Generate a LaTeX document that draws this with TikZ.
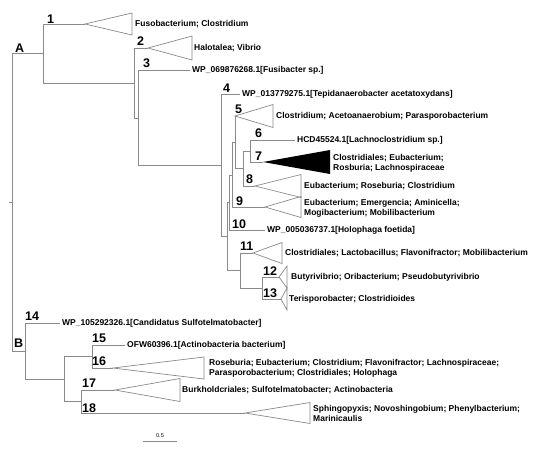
\documentclass[tikz,border=0pt]{standalone}
\usepackage{fontspec}
\setmainfont{Liberation Sans}
\definecolor{linegrey}{HTML}{8A8A8A}
\newcommand\cladetri[5]{% name, tip x, y, back x, half height
  \coordinate (#1) at (#2,#3);
  \draw[tri] (#1) -- (#4,#3-#5) -- (#4,#3+#5) -- cycle;}
\begin{document}
\begin{tikzpicture}[x=1pt,y=-1pt,
  br/.style={draw=linegrey,line width=0.9pt},
  tri/.style={draw=linegrey,line width=0.7pt},
  leaf/.style={anchor=west,inner sep=0pt,font=\fontsize{8.5}{10}\selectfont\bfseries,align=left},
  num/.style={anchor=base west,inner sep=0pt,font=\fontsize{12.5}{13}\selectfont\bfseries}]
\fill[white] (0,0) rectangle (554,448);
\useasboundingbox (0,0) rectangle (554,448);

% internal nodes
\coordinate (rs) at (9,202);
\coordinate (r) at (12,202);
\coordinate (A) at (43,53.5);
\coordinate (B) at (25,351);
\coordinate (N2) at (134,83);
\coordinate (N3) at (138,118);
\coordinate (N4) at (221,165);
\coordinate (N4b) at (227,236);
\coordinate (N10) at (229,202);
\coordinate (Nb) at (232,175);
\coordinate (Na) at (235,142);
\coordinate (N678) at (243,168);
\coordinate (N67) at (250,151);
\coordinate (N11) at (240,270);
\coordinate (N1213) at (262,288);
\coordinate (N1518) at (64,379);
\coordinate (N1516) at (92,356);
\coordinate (N1718) at (81,401);
% single leaves
\coordinate (l3) at (190,70);
\coordinate (l4) at (240,94);
\coordinate (l6) at (295,140);
\coordinate (l10) at (265,230);
\coordinate (l14) at (60,323);
\coordinate (l15) at (125,345);

% collapsed clades
\cladetri{t1}{85}{24}{132}{11}
\cladetri{t2}{148}{48}{192}{12}
\cladetri{t5}{235}{116}{273}{11.5}
\coordinate (t7) at (263,162);
\fill[black] (t7) -- (330,150) -- (330,174) -- cycle;
\cladetri{t8}{255}{186}{301}{11.5}
\cladetri{t9}{265}{207}{301}{10.5}
\cladetri{t11}{253}{253}{282}{10.5}
\cladetri{t12}{279}{277}{287}{11}
\cladetri{t13}{281}{299}{287}{11}
\cladetri{t16}{113}{368}{204}{11}
\cladetri{t17}{115}{390}{180}{11.5}
\cladetri{t18}{245}{413}{310}{10.5}

% branches
\draw[br] (rs) -- (r);
\draw[br] (r) |- (A);
\draw[br] (r) |- (B);
\draw[br] (A) |- (t1);
\draw[br] (A) |- (N2);
\draw[br] (N2) |- (t2);
\draw[br] (N2) |- (N3);
\draw[br] (N3) |- (l3);
\draw[br] (N3) |- (N4);
\draw[br] (N4) |- (l4);
\draw[br] (N4) |- (N4b);
\draw[br] (N4b) |- (N10);
\draw[br] (N4b) |- (N11);
\draw[br] (N10) |- (Nb);
\draw[br] (N10) |- (l10);
\draw[br] (Nb) |- (Na);
\draw[br] (Nb) |- (t9);
\draw[br] (Na) |- (t5);
\draw[br] (Na) |- (N678);
\draw[br] (N678) |- (N67);
\draw[br] (N678) |- (t8);
\draw[br] (N67) |- (l6);
\draw[br] (N67) |- (t7);
\draw[br] (N11) |- (t11);
\draw[br] (N11) |- (N1213);
\draw[br] (N1213) |- (t12);
\draw[br] (N1213) |- (t13);
\draw[br] (B) |- (l14);
\draw[br] (B) |- (N1518);
\draw[br] (N1518) |- (N1516);
\draw[br] (N1518) |- (N1718);
\draw[br] (N1516) |- (l15);
\draw[br] (N1516) |- (t16);
\draw[br] (N1718) |- (t17);
\draw[br] (N1718) |- (t18);

% leaf texts
\node[leaf] (x1) at (135,24) {Fusobacterium; Clostridium};
\node[leaf] (x2) at (194,48) {Halotalea; Vibrio};
\node[leaf] (x3) at (192,70) {WP\_069876268.1[Fusibacter sp.]};
\node[leaf] (x4) at (242,94) {WP\_013779275.1[Tepidanaerobacter acetatoxydans]};
\node[leaf] (x5) at (276,116) {Clostridium; Acetoanaerobium; Parasporobacterium};
\node[leaf] (x6) at (297,140) {HCD45524.1[Lachnoclostridium sp.]};
\node[leaf] (x7) at (333,163) {Clostridiales; Eubacterium;\\Rosburia; Lachnospiraceae};
\node[leaf] (x8) at (304,186) {Eubacterium; Roseburia; Clostridium};
\node[leaf] (x9) at (304,208) {Eubacterium; Emergencia; Aminicella;\\Mogibacterium; Mobilibacterium};
\node[leaf] (x10) at (267,230) {WP\_005036737.1[Holophaga foetida]};
\node[leaf] (x11) at (285,253) {Clostridiales; Lactobacillus; Flavonifractor; Mobilibacterium};
\node[leaf] (x12) at (291,277) {Butyrivibrio; Oribacterium; Pseudobutyrivibrio};
\node[leaf] (x13) at (289,299) {Terisporobacter; Clostridioides};
\node[leaf] (x14) at (62,323) {WP\_105292326.1[Candidatus Sulfotelmatobacter]};
\node[leaf] (x15) at (127,345) {OFW60396.1[Actinobacteria bacterium]};
\node[leaf] (x16) at (209,368) {Roseburia; Eubacterium; Clostridium; Flavonifractor; Lachnospiraceae;\\Parasporobacterium; Clostridiales; Holophaga};
\node[leaf] (x17) at (182,390) {Burkholdcriales; Sulfotelmatobacter; Actinobacteria};
\node[leaf] (x18) at (313,413) {Sphingopyxis; Novoshingobium; Phenylbacterium;\\Marinicaulis};

% node numbers
\node[num] (nA) at (15,52) {A};
\node[num] (nB) at (14,347) {B};
\node[num] (n1) at (47,23) {1};
\node[num] (n2) at (137,45) {2};
\node[num] (n3) at (143,67) {3};
\node[num] (n4) at (223,92) {4};
\node[num] (n5) at (235,113) {5};
\node[num] (n6) at (255,137) {6};
\node[num] (n7) at (255,160) {7};
\node[num] (n8) at (246,183) {8};
\node[num] (n9) at (236,205) {9};
\node[num] (n10) at (232,228) {10};
\node[num] (n11) at (240,250) {11};
\node[num] (n12) at (263,275) {12};
\node[num] (n13) at (263,297) {13};
\node[num] (n14) at (25,320) {14};
\node[num] (n15) at (92,342) {15};
\node[num] (n16) at (92,365) {16};
\node[num] (n17) at (82,387) {17};
\node[num] (n18) at (82,412) {18};

% scale bar
\coordinate (s0) at (143,441);
\coordinate (s1) at (177,441);
\draw[br] (s0) -- (s1);
\node[anchor=base,inner sep=0pt,font=\fontsize{5.5}{6}\selectfont] (sl) at (160,437) {0.5};
\end{tikzpicture}
\end{document}
